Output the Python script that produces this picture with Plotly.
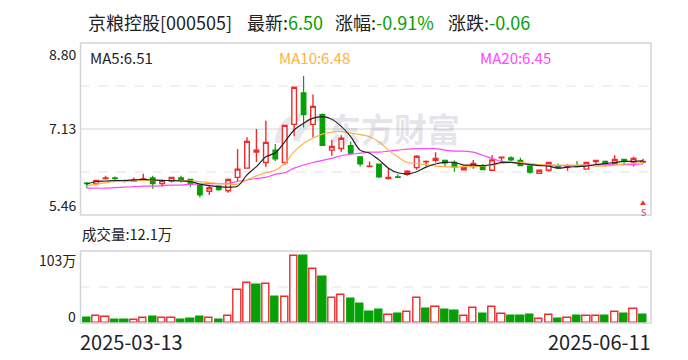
import pandas as pd
import plotly.graph_objects as go

W, H = 688, 360
closed = {"2025-04-04", "2025-05-01", "2025-05-02", "2025-05-05", "2025-06-02"}
dates = [d.strftime("%Y-%m-%d") for d in pd.bdate_range("2025-03-13", "2025-06-11") if d.strftime("%Y-%m-%d") not in closed]

opens = [6.08,6.07,6.17,6.18,6.13,6.12,6.15,6.18,6.07,6.12,6.18,6.15,6.03,5.92,6.02,5.93,6.19,6.37,6.68,6.48,
         6.72,6.48,7.22,7.83,7.22,7.41,6.72,6.75,6.81,6.59,6.40,6.45,6.17,6.20,6.25,6.38,6.495,6.52,6.52,6.48,
         6.34,6.40,6.42,6.33,6.57,6.57,6.52,6.41,6.27,6.33,6.41,6.39,6.42,6.35,6.50,6.50,6.46,6.54,6.49,6.49]
highs = [6.10,6.14,6.22,6.21,6.15,6.19,6.26,6.22,6.15,6.19,6.22,6.15,6.06,6.04,6.04,6.17,6.74,6.97,7.13,7.29,
         6.84,7.20,7.94,8.16,7.80,7.43,6.92,7.01,6.88,6.59,6.50,6.45,6.37,6.25,6.33,6.62,6.52,6.68,6.54,6.52,
         6.41,6.53,6.45,6.62,6.59,6.60,6.57,6.41,6.33,6.48,6.46,6.44,6.51,6.48,6.52,6.52,6.62,6.54,6.59,6.55]
lows = [5.99,6.04,6.15,6.11,6.09,6.11,6.14,5.97,6.01,6.09,6.09,6.01,5.80,5.85,5.93,5.89,6.11,6.37,6.49,6.39,
        6.51,6.43,6.99,7.16,6.97,6.81,6.61,6.69,6.64,6.40,6.40,6.18,6.15,6.19,6.22,6.34,6.41,6.48,6.39,6.30,
        6.34,6.36,6.34,6.33,6.50,6.51,6.41,6.26,6.27,6.30,6.35,6.32,6.40,6.35,6.45,6.41,6.45,6.45,6.40,6.46]
closes = [6.07,6.13,6.18,6.17,6.12,6.14,6.16,6.07,6.13,6.19,6.13,6.06,5.85,5.99,5.95,6.15,6.35,6.89,6.72,6.87,
          6.55,7.20,7.94,7.41,7.57,6.81,6.79,6.95,6.66,6.45,6.41,6.20,6.19,6.19,6.31,6.60,6.50,6.56,6.47,6.39,
          6.38,6.46,6.34,6.53,6.58,6.53,6.42,6.29,6.33,6.48,6.38,6.41,6.40,6.48,6.52,6.45,6.54,6.50,6.56,6.50]
ma5 = [6.06,6.11,6.12,6.13,6.13,6.14,6.15,6.14,6.13,6.13,6.12,6.11,6.06,6.03,6.01,6.00,6.02,6.24,6.40,6.59,
       6.67,6.88,7.11,7.24,7.34,7.37,7.32,7.18,6.98,6.72,6.66,6.53,6.37,6.28,6.26,6.30,6.39,6.45,6.48,6.48,
       6.43,6.43,6.42,6.44,6.48,6.48,6.46,6.44,6.42,6.41,6.37,6.39,6.40,6.41,6.44,6.46,6.48,6.50,6.50,6.51]
ma10 = [6.02,6.06,6.09,6.11,6.11,6.12,6.13,6.13,6.13,6.13,6.13,6.12,6.11,6.09,6.07,6.06,6.06,6.14,6.22,6.28,
        6.33,6.46,6.69,6.85,6.95,7.03,7.07,7.08,7.05,7.02,6.98,6.88,6.72,6.59,6.48,6.46,6.44,6.41,6.40,6.39,
        6.40,6.40,6.41,6.43,6.46,6.48,6.48,6.46,6.44,6.43,6.43,6.43,6.43,6.43,6.41,6.41,6.43,6.45,6.46,6.48]
ma20 = [5.98,5.98,5.98,5.99,6.00,6.01,6.02,6.02,6.03,6.04,6.04,6.06,6.06,6.07,6.07,6.07,6.11,6.14,6.17,6.19,
        6.25,6.28,6.37,6.43,6.48,6.52,6.56,6.61,6.64,6.66,6.68,6.68,6.70,6.72,6.74,6.75,6.75,6.75,6.72,6.70,
        6.70,6.68,6.62,6.56,6.50,6.48,6.46,6.44,6.43,6.43,6.42,6.42,6.42,6.43,6.43,6.44,6.44,6.44,6.44,6.45]
volumes = [7.7,10.3,8.8,4.6,4.6,4.2,7.2,9.2,7.2,7.2,4.6,6.1,9.2,7.2,4.6,10.3,50.3,61,58.4,59.5,
           40,39.5,102.5,103,82.5,70.7,38,42.6,36.9,29.2,16.9,20,11.8,13.8,16.4,38,21.5,24.1,20,18.4,
           10.3,22.6,13.8,24.1,13.4,10.8,10.8,12.3,5.7,11.8,6.1,7.2,10.8,10.3,10.3,10.8,16.4,13.8,21.1,12.1]
volume_up = [0,1,1,0,0,1,1,0,1,1,0,0,0,1,0,1,1,1,0,1,
             0,1,1,0,1,0,1,1,0,0,0,0,1,0,1,1,0,1,0,0,
             1,1,0,1,1,0,0,0,1,1,0,1,0,1,1,0,1,0,1,0]
price_ticks = ["8.80", "7.13", "5.46"]

RED, GREEN = "#f02b2b", "#05a005"
ORANGE, MAGENTA = "#ffb23e", "#ff45ff"
GRID, BORDER = "#e0e0e0", "#d3d3dc"
FONT = "Noto Sans CJK SC"

px = lambda v: v / W
py = lambda v: 1 - v / H

fig = go.Figure()
fig.add_trace(go.Candlestick(x=dates, open=opens, high=highs, low=lows, close=closes, xaxis="x", yaxis="y",
    increasing=dict(line=dict(color=RED, width=1.4), fillcolor="#ffffff"),
    decreasing=dict(line=dict(color=GREEN, width=1.2), fillcolor=GREEN),
    whiskerwidth=0, showlegend=False))
for vals, col in ((ma20, MAGENTA), (ma10, ORANGE), (ma5, "#222222")):
    fig.add_trace(go.Scatter(x=dates, y=vals, mode="lines", xaxis="x", yaxis="y", showlegend=False,
                             line=dict(color=col, width=1.2, shape="spline", smoothing=1)))
fig.add_trace(go.Bar(x=dates, y=volumes, xaxis="x2", yaxis="y2", width=0.78, showlegend=False,
    marker=dict(color=["#ffffff" if u else GREEN for u in volume_up],
                line=dict(color=[RED if u else GREEN for u in volume_up], width=1.4))))

def label(text, x, y, size=14, color="#222222", anchor="left"):
    return dict(text=text, x=px(x), y=py(y), xref="paper", yref="paper", showarrow=False,
                xanchor=anchor, yanchor="middle", font=dict(size=size, color=color, family=FONT))

def green(s):
    return f'<span style="color:{GREEN}">{s}</span>'

anns = [
    label("京粮控股[000505]", 86, 22, 18),
    label("最新:" + green("6.50"), 245, 22, 18),
    label("涨幅:" + green("-0.91%"), 333, 22, 18),
    label("涨跌:" + green("-0.06"), 446, 22, 18),
    label("MA5:6.51", 88, 57, 15),
    label("MA10:6.48", 277, 57, 15, color=ORANGE),
    label("MA20:6.45", 478, 57, 15, color=MAGENTA),
    label(price_ticks[0], 78, 54, anchor="right"),
    label(price_ticks[1], 78, 128, anchor="right"),
    label(price_ticks[2], 78, 205, anchor="right"),
    label("成交量:12.1万", 80, 233, 14.5),
    label("103万", 78, 260, anchor="right"),
    label("0", 78, 316, anchor="right"),
    label(dates[0], 78, 341, 20),
    label(dates[-1], 653, 341, 20, anchor="right"),
    label("<b>东方财富</b>", 326, 128, 33, color="rgba(150,150,170,0.25)"),
    label("S", 643, 212, 9, color=RED, anchor="center"),
    label("▲", 643, 202, 6, color=RED, anchor="center"),
]

def hline(yval, yref, dash, xref="x domain"):
    return dict(type="line", xref=xref, yref=yref, x0=0, x1=1, y0=yval, y1=yval, layer="below",
                line=dict(color=GRID if dash == "dash" else BORDER, width=1, dash=dash))

def swoosh(d):
    return dict(type="path", xref="paper", yref="paper", path=d, layer="below",
                line=dict(color="#e8e8ec", width=7))

shapes = [
    swoosh(f"M {px(278)} {py(143)} Q {px(280)} {py(120)} {px(300)} {py(117)}"),
    swoosh(f"M {px(296)} {py(141)} Q {px(300)} {py(124)} {px(322)} {py(116)}"),
    hline(7.965, "y", "dash"), hline(7.13, "y", "solid"), hline(6.295, "y", "dash"),
    hline(55.3, "y2", "dash", "x2 domain"),
    dict(type="rect", xref="paper", yref="paper", x0=px(80.5), x1=px(651), y0=py(215), y1=py(43),
         line=dict(color=BORDER, width=1.5), layer="above"),
    dict(type="rect", xref="paper", yref="paper", x0=px(80.5), x1=px(651), y0=py(323), y1=py(251),
         line=dict(color=BORDER, width=1.5), layer="above"),
]

fig.update_layout(
    width=W, height=H, margin=dict(l=0, r=0, t=0, b=0), paper_bgcolor="#ffffff", plot_bgcolor="rgba(0,0,0,0)",
    annotations=anns, shapes=shapes, bargap=0,
    xaxis=dict(domain=[px(80.5), px(651)], type="category", categoryorder="array", categoryarray=dates,
               range=[-0.66, 59.85], rangeslider=dict(visible=False), showticklabels=False, showgrid=False, zeroline=False, ticks=""),
    xaxis2=dict(domain=[px(80.5), px(651)], type="category", categoryorder="array", categoryarray=dates, anchor="y2",
                range=[-0.66, 59.85], showticklabels=False, showgrid=False, zeroline=False, ticks=""),
    yaxis=dict(domain=[py(215), py(43)], range=[5.46, 8.80], showticklabels=False, showgrid=False, zeroline=False, ticks=""),
    yaxis2=dict(domain=[py(323), py(251)], range=[0, 110.7], showticklabels=False, showgrid=False, zeroline=False, ticks="", anchor="x2"),
)
fig.write_html("out.html", config=dict(displayModeBar=False),
               post_script="document.body.style.margin='0';document.body.style.overflow='hidden';")
